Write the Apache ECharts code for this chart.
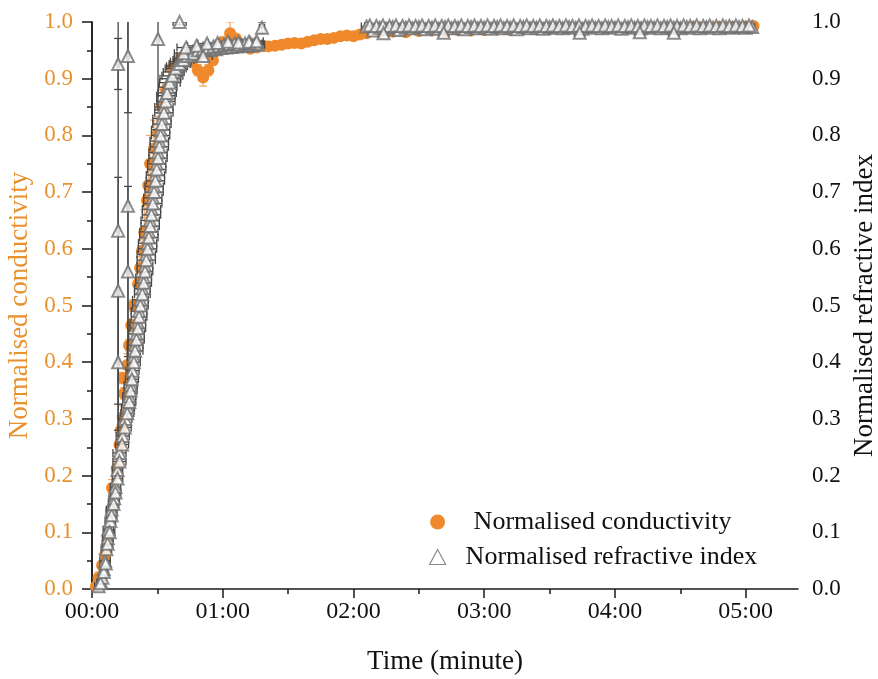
<!DOCTYPE html>
<html>
<head>
<meta charset="utf-8">
<script src="https://cdn.jsdelivr.net/npm/echarts@6/dist/echarts.min.js"></script>
<style>html,body{margin:0;padding:0;background:#fff}#c{width:878px;height:679px}</style>
</head>
<body>
<div id="c"></div>
<script>
// ---- Data (time in minutes) ----
// Normalised conductivity: [time, value, vertical error]
const condData = [
  [0.03,0.005,0.004],[0.05,0.02,0.01],[0.077,0.042,0.02],[0.10,0.06,0.02],[0.12,0.086,0.015],
  [0.145,0.139,0.02],[0.153,0.178,0.015],[0.19,0.213,0.02],[0.21,0.254,0.01],[0.22,0.28,0.01],
  [0.235,0.303,0.02],[0.245,0.345,0.01],[0.237,0.372,0.01],[0.27,0.395,0.02],[0.283,0.43,0.01],
  [0.30,0.465,0.01],[0.314,0.50,0.01],[0.352,0.538,0.01],[0.367,0.566,0.02],[0.383,0.597,0.02],
  [0.40,0.629,0.04],[0.42,0.685,0.03],[0.43,0.712,0.04],[0.444,0.75,0.05],[0.474,0.777,0.05],
  [0.505,0.804,0.03],[0.536,0.85,0.02],[0.566,0.88,0.01],[0.612,0.918,0.01],[0.658,0.932,0.01],
  [0.71,0.936,0.005],[0.765,0.929,0.005],[0.81,0.915,0.01],[0.85,0.902,0.015],[0.89,0.915,0.01],
  [0.925,0.932,0.005],[0.964,0.95,0.005],[1.00,0.964,0.01],[1.056,0.98,0.02],[1.10,0.971,0.005],
  [1.148,0.958,0.005],[1.21,0.953,0.005],[1.26,0.955,0.005],[1.31,0.958,0.005],[1.35,0.957,0.005],
  [1.40,0.958,0.005],[1.45,0.96,0.005],[1.50,0.962,0.005],[1.55,0.963,0.005],[1.60,0.962,0.005],
  [1.65,0.965,0.005],[1.70,0.968,0.005],[1.75,0.97,0.005],[1.80,0.97,0.005],[1.85,0.972,0.005],
  [1.90,0.975,0.005],[1.95,0.976,0.005],[2.00,0.975,0.005],[2.05,0.978,0.005],[2.10,0.98,0.005],
  [2.20,0.982,0.004],[2.30,0.983,0.004],[2.40,0.982,0.004],[2.50,0.984,0.004],[2.60,0.985,0.004],
  [2.70,0.984,0.004],[2.80,0.986,0.004],[2.90,0.985,0.004],[3.00,0.986,0.004],[3.10,0.987,0.004],
  [3.20,0.986,0.004],[3.30,0.987,0.004],[3.40,0.988,0.004],[3.50,0.987,0.004],[3.60,0.988,0.004],
  [3.70,0.988,0.004],[3.80,0.989,0.004],[3.90,0.988,0.004],[4.00,0.989,0.004],[4.10,0.989,0.004],
  [4.20,0.99,0.004],[4.30,0.989,0.004],[4.40,0.99,0.004],[4.50,0.99,0.004],[4.60,0.991,0.004],
  [4.70,0.99,0.004],[4.80,0.991,0.004],[4.90,0.991,0.004],[5.00,0.992,0.004],[5.06,0.993,0.004]
];
// Normalised refractive index: [time, value, horizontal error, vertical error]
const riRise = [
  [0.05,0.005,0.03,0],[0.07,0.012,0.03,0],[0.08,0.02,0.03,0],[0.09,0.035,0.03,0],[0.10,0.05,0.04,0],
  [0.11,0.07,0.04,0],[0.12,0.09,0.04,0],[0.125,0.105,0.04,0],[0.14,0.12,0.04,0],[0.15,0.14,0.04,0],
  [0.17,0.16,0.04,0],[0.18,0.18,0.04,0],[0.195,0.21,0.04,0],[0.21,0.24,0.05,0],[0.235,0.27,0.05,0],
  [0.255,0.30,0.05,0],[0.275,0.32,0.05,0],[0.285,0.34,0.05,0],[0.295,0.36,0.05,0],[0.31,0.385,0.05,0],
  [0.32,0.41,0.05,0],[0.33,0.43,0.06,0],[0.34,0.45,0.06,0],[0.35,0.47,0.06,0],[0.36,0.49,0.06,0],
  [0.37,0.51,0.06,0],[0.385,0.53,0.06,0],[0.395,0.55,0.06,0],[0.405,0.57,0.06,0],[0.415,0.59,0.07,0],
  [0.425,0.61,0.07,0],[0.435,0.63,0.07,0],[0.445,0.65,0.07,0],[0.455,0.67,0.07,0],[0.465,0.69,0.07,0],
  [0.475,0.71,0.07,0],[0.485,0.73,0.07,0],[0.495,0.75,0.07,0],[0.505,0.77,0.07,0],[0.515,0.79,0.07,0],
  [0.525,0.81,0.07,0],[0.535,0.83,0.07,0],[0.55,0.85,0.07,0],[0.565,0.87,0.07,0],[0.58,0.885,0.07,0],
  [0.60,0.90,0.08,0],[0.625,0.912,0.08,0],[0.65,0.922,0.08,0],[0.68,0.93,0.08,0],[0.71,0.936,0.08,0],
  [0.75,0.94,0.08,0],[0.79,0.944,0.08,0],[0.83,0.947,0.08,0],[0.87,0.95,0.08,0],[0.91,0.951,0.08,0],
  [0.95,0.952,0.08,0],[0.99,0.954,0.08,0],[1.03,0.955,0.08,0],[1.07,0.956,0.08,0],[1.11,0.957,0.07,0],
  [1.15,0.958,0.07,0],[1.19,0.958,0.07,0],[1.23,0.959,0.06,0],[1.27,0.96,0.05,0],
  [0.065,0.01,0.03,0],[0.09,0.03,0.03,0],[0.105,0.045,0.03,0],[0.12,0.08,0.04,0],[0.135,0.10,0.04,0],
  [0.15,0.13,0.04,0],[0.165,0.15,0.04,0],[0.18,0.17,0.04,0],[0.195,0.195,0.04,0],[0.21,0.225,0.05,0],
  [0.23,0.255,0.05,0],[0.25,0.285,0.05,0],[0.27,0.31,0.05,0],[0.285,0.33,0.05,0],[0.295,0.35,0.05,0],
  [0.305,0.37,0.05,0],[0.32,0.40,0.05,0],[0.33,0.42,0.06,0],[0.34,0.44,0.06,0],[0.35,0.46,0.06,0],
  [0.36,0.48,0.06,0],[0.37,0.50,0.06,0],[0.385,0.52,0.06,0],[0.395,0.54,0.06,0],[0.405,0.56,0.06,0],
  [0.415,0.58,0.07,0],[0.425,0.60,0.07,0],[0.435,0.62,0.07,0],[0.445,0.64,0.07,0],[0.455,0.66,0.07,0],
  [0.465,0.68,0.07,0],[0.475,0.70,0.07,0],[0.485,0.72,0.07,0],[0.495,0.74,0.07,0],[0.505,0.76,0.07,0],
  [0.515,0.78,0.07,0],[0.525,0.80,0.07,0],[0.535,0.82,0.07,0],[0.55,0.84,0.07,0],[0.565,0.86,0.07,0],
  [0.575,0.875,0.07,0],[0.595,0.893,0.08,0],[0.615,0.905,0.08,0],[0.64,0.918,0.08,0],[0.67,0.926,0.08,0],
  [0.70,0.933,0.08,0],[0.73,0.94,0.08,0],[0.77,0.944,0.08,0],[0.81,0.95,0.08,0],[0.85,0.953,0.08,0],
  [0.89,0.955,0.08,0],[0.93,0.957,0.08,0],[0.97,0.958,0.08,0],[1.01,0.96,0.08,0],[1.05,0.961,0.08,0],
  [1.09,0.962,0.08,0],[1.13,0.96,0.07,0],[1.17,0.962,0.07,0],[1.21,0.963,0.06,0],[1.25,0.962,0.05,0],
  [0.70,0.945,0.07,0],[0.85,0.94,0.07,0],[0.72,0.955,0.07,0],[0.80,0.958,0.07,0],[0.88,0.962,0.07,0],
  [0.96,0.963,0.07,0],[1.04,0.965,0.07,0],[1.12,0.964,0.06,0],[1.20,0.965,0.06,0],[1.26,0.966,0.05,0]
];
// outliers with large vertical errors
const riOutliers = [
  [0.20,0.926,0.01,0.045],[0.20,0.632,0.01,0.40],[0.20,0.526,0.01,0.20],[0.20,0.40,0.01,0.12],
  [0.275,0.94,0.01,0.10],[0.275,0.676,0.01,0.36],[0.275,0.56,0.01,0.15],[0.505,0.97,0.01,0.125],
  [1.30,0.99,0.02,0.01],[0.67,1.00,0.05,0.005]
];
const riPlateau = [
  [2.10,0.992,0.04,0],[2.15,0.985,0.04,0],[2.20,0.990,0.04,0],[2.25,0.988,0.04,0],[2.30,0.991,0.04,0],
  [2.35,0.986,0.04,0],[2.40,0.990,0.04,0],[2.45,0.989,0.04,0],[2.50,0.991,0.04,0],[2.55,0.987,0.04,0],
  [2.60,0.990,0.04,0],[2.65,0.988,0.04,0],[2.70,0.991,0.04,0],[2.75,0.989,0.04,0],[2.80,0.990,0.04,0],
  [2.85,0.987,0.04,0],[2.90,0.991,0.04,0],[2.95,0.989,0.04,0],[3.00,0.990,0.04,0],[3.05,0.988,0.04,0],
  [3.10,0.991,0.04,0],[3.15,0.989,0.04,0],[3.20,0.990,0.04,0],[3.25,0.987,0.04,0],[3.30,0.991,0.04,0],
  [3.35,0.989,0.04,0],[3.40,0.990,0.04,0],[3.45,0.988,0.04,0],[3.50,0.991,0.04,0],[3.55,0.990,0.04,0],
  [3.60,0.989,0.04,0],[3.65,0.991,0.04,0],[3.70,0.990,0.04,0],[3.75,0.988,0.04,0],[3.80,0.991,0.04,0],
  [3.85,0.990,0.04,0],[3.90,0.989,0.04,0],[3.95,0.991,0.04,0],[4.00,0.990,0.04,0],[4.05,0.988,0.04,0],
  [4.10,0.991,0.04,0],[4.15,0.990,0.04,0],[4.20,0.989,0.04,0],[4.25,0.991,0.04,0],[4.30,0.990,0.04,0],
  [4.35,0.989,0.04,0],[4.40,0.991,0.04,0],[4.45,0.990,0.04,0],[4.50,0.989,0.04,0],[4.55,0.991,0.04,0],
  [4.60,0.990,0.04,0],[4.65,0.989,0.04,0],[4.70,0.991,0.04,0],[4.75,0.990,0.04,0],[4.80,0.989,0.04,0],
  [4.85,0.991,0.04,0],[4.90,0.990,0.04,0],[4.95,0.991,0.04,0],[5.00,0.990,0.04,0],[5.05,0.991,0.02,0],
  [2.125,0.994,0.04,0],[2.175,0.993,0.04,0],[2.225,0.994,0.04,0],[2.275,0.993,0.04,0],[2.325,0.994,0.04,0],
  [2.375,0.993,0.04,0],[2.425,0.994,0.04,0],[2.475,0.993,0.04,0],[2.525,0.994,0.04,0],[2.575,0.993,0.04,0],
  [2.625,0.994,0.04,0],[2.675,0.993,0.04,0],[2.725,0.994,0.04,0],[2.775,0.993,0.04,0],[2.825,0.994,0.04,0],
  [2.875,0.993,0.04,0],[2.925,0.994,0.04,0],[2.975,0.993,0.04,0],[3.025,0.994,0.04,0],[3.075,0.993,0.04,0],
  [3.125,0.994,0.04,0],[3.175,0.993,0.04,0],[3.225,0.994,0.04,0],[3.275,0.993,0.04,0],[3.325,0.994,0.04,0],
  [3.375,0.993,0.04,0],[3.425,0.994,0.04,0],[3.475,0.993,0.04,0],[3.525,0.994,0.04,0],[3.575,0.993,0.04,0],
  [3.625,0.994,0.04,0],[3.675,0.993,0.04,0],[3.725,0.994,0.04,0],[3.775,0.993,0.04,0],[3.825,0.994,0.04,0],
  [3.875,0.993,0.04,0],[3.925,0.994,0.04,0],[3.975,0.993,0.04,0],[4.025,0.994,0.04,0],[4.075,0.993,0.04,0],
  [4.125,0.994,0.04,0],[4.175,0.993,0.04,0],[4.225,0.994,0.04,0],[4.275,0.993,0.04,0],[4.325,0.994,0.04,0],
  [4.375,0.993,0.04,0],[4.425,0.994,0.04,0],[4.475,0.993,0.04,0],[4.525,0.994,0.04,0],[4.575,0.993,0.04,0],
  [4.625,0.994,0.04,0],[4.675,0.993,0.04,0],[4.725,0.994,0.04,0],[4.775,0.993,0.04,0],[4.825,0.994,0.04,0],
  [4.875,0.993,0.04,0],[4.925,0.994,0.04,0],[4.975,0.993,0.04,0],[5.025,0.994,0.03,0],
  [2.23,0.980,0.04,0],[2.69,0.981,0.04,0],[3.73,0.981,0.04,0],[4.19,0.982,0.04,0],[4.45,0.981,0.04,0]
];
const xMajorTicks = [0, 1, 2, 3, 4, 5];
const xMinorTicks = [0.5, 1.5, 2.5, 3.5, 4.5];
const seriesNames = ['Normalised conductivity', 'Normalised refractive index'];
const axisTitles = { x: 'Time (minute)', yLeft: 'Normalised conductivity', yRight: 'Normalised refractive index' };

// ---- Styling ----
const FONT = "'Liberation Serif','Times New Roman',serif";
const ORANGE = '#F0892B';
const ORANGE_LABEL = '#E8912F';
const GRAY = '#6f6f6f';
const GRAY_BAR = '#474747';
const AX = '#1a1a1a';

const riData = riRise.concat(riOutliers, riPlateau);

function errRenderer(color, cap, lw) {
  return function (params, api) {
    const x = api.value(0), y = api.value(1), ex = api.value(2), ey = api.value(3);
    const ch = [];
    const st = { stroke: color, lineWidth: lw };
    if (ex > 0) {
      const a = api.coord([x - ex, y]), b = api.coord([x + ex, y]);
      ch.push({ type: 'line', shape: { x1: a[0], y1: a[1], x2: b[0], y2: b[1] }, style: st });
      ch.push({ type: 'line', shape: { x1: a[0], y1: a[1] - cap, x2: a[0], y2: a[1] + cap }, style: st });
      ch.push({ type: 'line', shape: { x1: b[0], y1: b[1] - cap, x2: b[0], y2: b[1] + cap }, style: st });
    }
    if (ey > 0) {
      const a = api.coord([x, y - ey]), b = api.coord([x, y + ey]);
      ch.push({ type: 'line', shape: { x1: a[0], y1: a[1], x2: b[0], y2: b[1] }, style: st });
      ch.push({ type: 'line', shape: { x1: a[0] - cap, y1: a[1], x2: a[0] + cap, y2: a[1] }, style: st });
      ch.push({ type: 'line', shape: { x1: b[0] - cap, y1: b[1], x2: b[0] + cap, y2: b[1] }, style: st });
    }
    return { type: 'group', children: ch };
  };
}

const chart = echarts.init(document.getElementById('c'), null, { renderer: 'canvas' });
const condErr = condData.map(d => [d[0], d[1], 0, d[2]]);

chart.setOption({
  animation: false,
  backgroundColor: '#fff',
  grid: { left: 92, right: 80, top: 22, bottom: 90, containLabel: false, outerBoundsMode: 'none' },
  legend: {
    orient: 'vertical', left: 424, top: 504, itemGap: 9, itemWidth: 16, itemHeight: 15,
    textStyle: { fontFamily: FONT, fontSize: 26, color: '#111' },
    data: [
      { name: seriesNames[0], icon: 'circle', textStyle: { padding: [0, 0, 0, 23] } },
      { name: seriesNames[1], icon: 'triangle', itemStyle: { color: '#fff', borderColor: GRAY, borderWidth: 1.2 }, textStyle: { padding: [0, 0, 0, 15] } }
    ]
  },
  xAxis: [{
    type: 'value', min: 0, max: 5.4, interval: 1, position: 'bottom',
    name: axisTitles.x, nameLocation: 'middle', nameGap: 59,
    nameTextStyle: { fontFamily: FONT, fontSize: 27, color: '#111' },
    axisLine: { show: true, lineStyle: { color: AX, width: 1.5 } },
    axisTick: { show: true, length: 9, customValues: xMajorTicks, lineStyle: { color: AX, width: 1.5 } },
    axisLabel: { customValues: xMajorTicks, margin: 11, fontFamily: FONT, fontSize: 24, color: '#111',
      formatter: v => '0' + v + ':00' },
    splitLine: { show: false }
  }, {
    type: 'value', min: 0, max: 5.4, position: 'bottom',
    axisLine: { show: false },
    axisTick: { show: true, length: 5, customValues: xMinorTicks, lineStyle: { color: AX, width: 1.5 } },
    axisLabel: { show: false }, splitLine: { show: false }
  }],
  yAxis: [{
    type: 'value', min: 0, max: 1, interval: 0.1, position: 'left',
    name: axisTitles.yLeft, nameLocation: 'middle', nameGap: 54, nameRotate: 90,
    nameTextStyle: { fontFamily: FONT, fontSize: 27, color: ORANGE_LABEL },
    axisLine: { show: true, lineStyle: { color: AX, width: 1.5 } },
    axisTick: { show: true, length: 10, lineStyle: { color: AX, width: 1.5 } },
    minorTick: { show: true, splitNumber: 2, length: 5, lineStyle: { color: AX, width: 1.5 } },
    axisLabel: { margin: 19, fontFamily: FONT, fontSize: 23, color: ORANGE_LABEL, formatter: v => v.toFixed(1) },
    splitLine: { show: false }
  }, {
    type: 'value', min: 0, max: 1, interval: 0.1, position: 'right',
    name: axisTitles.yRight, nameLocation: 'middle', nameGap: 51, nameRotate: 90,
    nameTextStyle: { fontFamily: FONT, fontSize: 27, color: '#111' },
    axisLine: { show: true, lineStyle: { color: AX, width: 1.5 } },
    axisTick: { show: true, inside: true, length: 10, lineStyle: { color: AX, width: 1.5 } },
    minorTick: { show: true, splitNumber: 2, length: 5, lineStyle: { color: AX, width: 1.5 } },
    axisLabel: { margin: 14, fontFamily: FONT, fontSize: 23, color: '#111', formatter: v => v.toFixed(1) },
    splitLine: { show: false }
  }],
  series: [
    { type: 'custom', name: 'condErr', xAxisIndex: 0, yAxisIndex: 0, data: condErr, clip: true, z: 1,
      renderItem: errRenderer('#F3A865', 4, 1.2), encode: { x: 0, y: 1 }, silent: true },
    { type: 'scatter', name: seriesNames[0], xAxisIndex: 0, yAxisIndex: 0, symbol: 'circle', symbolSize: 12,
      itemStyle: { color: ORANGE, opacity: 1 }, data: condData.map(d => [d[0], d[1]]), z: 2, clip: true },
    { type: 'custom', name: 'riErr', xAxisIndex: 0, yAxisIndex: 1, data: riData, clip: true, z: 3,
      renderItem: errRenderer(GRAY_BAR, 4, 1.3), encode: { x: 0, y: 1 }, silent: true },
    { type: 'scatter', name: seriesNames[1], xAxisIndex: 0, yAxisIndex: 1, symbol: 'emptyTriangle', symbolSize: 12,
      itemStyle: { color: GRAY, borderWidth: 1 }, data: riData.map(d => [d[0], d[1]]), z: 4, clip: true }
  ]
});
</script>
</body>
</html>
